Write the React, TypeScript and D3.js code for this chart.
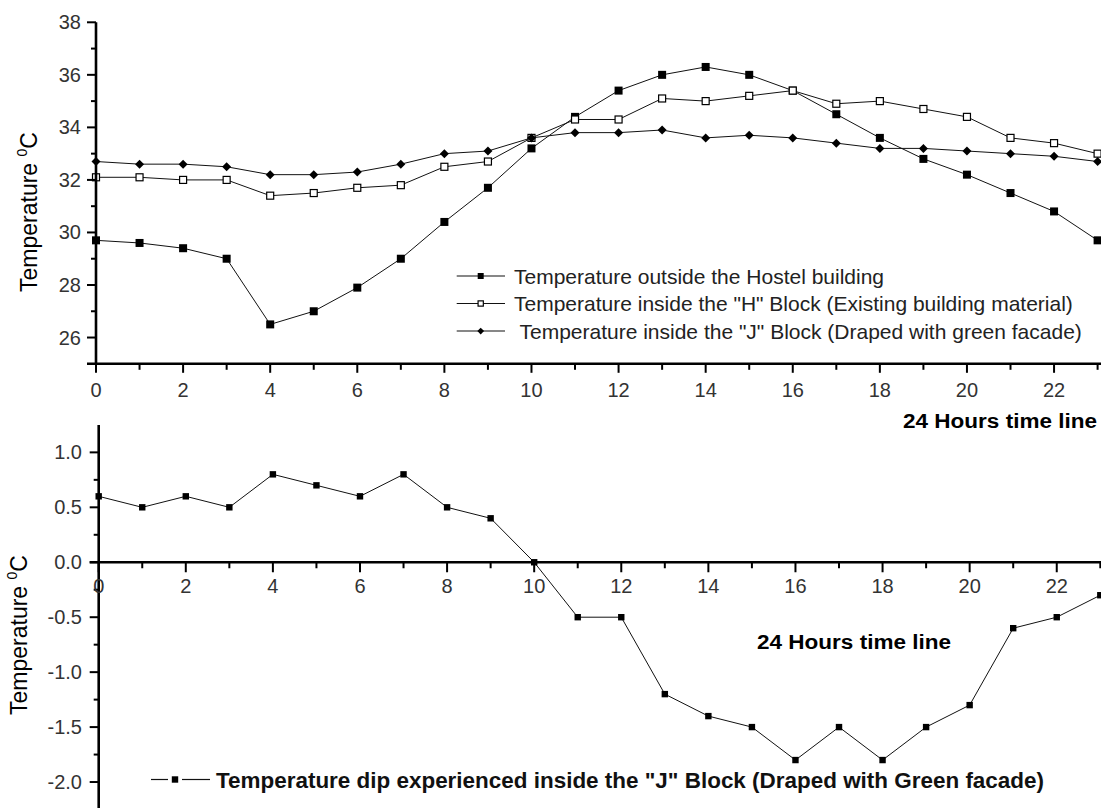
import React from 'react';
import * as d3 from 'd3';

const hours = [0, 1, 2, 3, 4, 5, 6, 7, 8, 9, 10, 11, 12, 13, 14, 15, 16, 17, 18, 19, 20, 21, 22, 23];
const outsideTemp = [29.7, 29.6, 29.4, 29.0, 26.5, 27.0, 27.9, 29.0, 30.4, 31.7, 33.2, 34.4, 35.4, 36.0, 36.3, 36.0, 35.4, 34.5, 33.6, 32.8, 32.2, 31.5, 30.8, 29.7];
const hBlockTemp = [32.1, 32.1, 32.0, 32.0, 31.4, 31.5, 31.7, 31.8, 32.5, 32.7, 33.6, 34.3, 34.3, 35.1, 35.0, 35.2, 35.4, 34.9, 35.0, 34.7, 34.4, 33.6, 33.4, 33.0];
const jBlockTemp = [32.7, 32.6, 32.6, 32.5, 32.2, 32.2, 32.3, 32.6, 33.0, 33.1, 33.6, 33.8, 33.8, 33.9, 33.6, 33.7, 33.6, 33.4, 33.2, 33.2, 33.1, 33.0, 32.9, 32.7];
const dipValues = [0.6, 0.5, 0.6, 0.5, 0.8, 0.7, 0.6, 0.8, 0.5, 0.4, 0.0, -0.5, -0.5, -1.2, -1.4, -1.5, -1.8, -1.5, -1.8, -1.5, -1.3, -0.6, -0.5, -0.3];

const xTickLabels = [0, 2, 4, 6, 8, 10, 12, 14, 16, 18, 20, 22];
const topYTicks = [26, 28, 30, 32, 34, 36, 38];
const topYMinor = [27, 29, 31, 33, 35, 37];
const bottomYTicks = [1.0, 0.5, 0.0, -0.5, -1.0, -1.5, -2.0];
const bottomYMinor = [0.75, 0.25, -0.25, -0.75, -1.25, -1.75];

const legendTop = [
  'Temperature outside the Hostel building',
  'Temperature inside the "H" Block (Existing building material)',
  ' Temperature inside the "J" Block (Draped with green facade)',
];
const legendBottom = 'Temperature dip experienced inside the "J" Block (Draped with Green facade)';
const xTitle = '24 Hours time line';
const yTitle = 'Temperature ';

const FONT = '"Liberation Sans", Arial, sans-serif';

function Marker({ kind, x, y, s = 1 }: { kind: string; x: number; y: number; s?: number }) {
  if (kind === 'fsq') {
    const h = 4 * s;
    return <rect x={x - h} y={y - h} width={2 * h} height={2 * h} fill="#000" />;
  }
  if (kind === 'osq') {
    const h = 3.5 * s;
    return <rect x={x - h} y={y - h} width={2 * h} height={2 * h} fill="#fff" stroke="#000" strokeWidth={1.2} />;
  }
  if (kind === 'dia') {
    const w = 4.5 * s;
    const h = 4.5 * s;
    return <path d={`M${x},${y - h}L${x + w},${y}L${x},${y + h}L${x - w},${y}Z`} fill="#000" />;
  }
  const h = 3.2 * s;
  return <rect x={x - h} y={y - h} width={2 * h} height={2 * h} fill="#000" />;
}

export default function App() {
  const xTop = d3.scaleLinear().domain([0, 23]).range([96, 1097.6]);
  const yTop = d3.scaleLinear().domain([25, 38]).range([363.8, 22.3]);
  const xBot = d3.scaleLinear().domain([0, 23]).range([98.7, 1100.3]);
  const yBot = d3.scaleLinear().domain([-2.25, 1.25]).range([809.5, 424.9]);

  const lineTop = (vals: number[]) =>
    d3.line<number>().x((_, i) => xTop(hours[i])).y((d) => yTop(d))(vals) || '';
  const lineBot = d3.line<number>().x((_, i) => xBot(hours[i])).y((d) => yBot(d))(dipValues) || '';

  const series = [
    { vals: outsideTemp, kind: 'fsq' },
    { vals: hBlockTemp, kind: 'osq' },
    { vals: jBlockTemp, kind: 'dia' },
  ];

  const axisW = 2.6;
  const tickColor = '#000';
  const labelColor = '#333';
  const tickFont = 20;

  const topAxisY = yTop(25);
  const botAxisY = yBot(0);

  return (
    <svg width={1101} height={808} style={{ position: 'absolute', left: 0, top: 0, background: '#fff' }} fontFamily={FONT}>
      <rect x={0} y={0} width={1101} height={808} fill="#fff" />
      {/* ===== TOP CHART ===== */}
      {series.map((s, si) => (
        <g key={si}>
          <path d={lineTop(s.vals)} fill="none" stroke="#111" strokeWidth={1} />
          {s.vals.map((v, i) => (
            <Marker key={i} kind={s.kind} x={xTop(hours[i])} y={yTop(v)} />
          ))}
        </g>
      ))}
      {/* top y axis */}
      <line x1={xTop(0)} x2={xTop(0)} y1={yTop(38)} y2={topAxisY + 1} stroke="#000" strokeWidth={axisW} />
      {topYTicks.map((t) => (
        <g key={t}>
          <line x1={xTop(0) - 9} x2={xTop(0)} y1={yTop(t)} y2={yTop(t)} stroke={tickColor} strokeWidth={2} />
          <text x={81} y={yTop(t) + 7} textAnchor="end" fontSize={tickFont} fill={labelColor}>{t}</text>
        </g>
      ))}
      {topYMinor.map((t) => (
        <line key={t} x1={xTop(0) - 5} x2={xTop(0)} y1={yTop(t)} y2={yTop(t)} stroke={tickColor} strokeWidth={2} />
      ))}
      {/* top x axis */}
      <line x1={xTop(0) - 9} x2={1101} y1={topAxisY} y2={topAxisY} stroke="#000" strokeWidth={axisW} />
      {hours.map((h) => (
        <line key={h} x1={xTop(h)} x2={xTop(h)} y1={topAxisY} y2={topAxisY + (h % 2 === 0 ? 9 : 6)} stroke={tickColor} strokeWidth={2} />
      ))}
      {xTickLabels.map((h) => (
        <text key={h} x={xTop(h)} y={topAxisY + 33} textAnchor="middle" fontSize={tickFont} fill={labelColor}>{h}</text>
      ))}
      <text x={903} y={428} fontSize={20} fontWeight="bold" fill="#000" textLength={194} lengthAdjust="spacingAndGlyphs">{xTitle}</text>
      <text transform={`translate(37,212) rotate(-90)`} textAnchor="middle" fontSize={23} fill="#000">
        {yTitle}
        <tspan fontSize={14} dy={-10}>0</tspan>
        <tspan dy={10}>C</tspan>
      </text>
      {/* top legend */}
      {legendTop.map((lab, i) => {
        const cy = 276 + i * 27.5;
        return (
          <g key={i}>
            <line x1={456.7} x2={505} y1={cy} y2={cy} stroke="#111" strokeWidth={1.2} />
            <Marker kind={series[i].kind} x={480.7} y={cy} s={0.75} />
            <text x={514} y={cy + 7.5} fontSize={21} fill="#222" style={{ whiteSpace: 'pre' }}>{lab}</text>
          </g>
        );
      })}

      {/* ===== BOTTOM CHART ===== */}
      <path d={lineBot} fill="none" stroke="#111" strokeWidth={1} />
      {dipValues.map((v, i) => (
        <Marker key={i} kind="bsq" x={xBot(hours[i])} y={yBot(v)} />
      ))}
      {/* bottom y axis */}
      <line x1={xBot(0)} x2={xBot(0)} y1={yBot(1.25)} y2={808} stroke="#000" strokeWidth={axisW} />
      {bottomYTicks.map((t) => (
        <g key={t}>
          <line x1={xBot(0) - 9} x2={xBot(0)} y1={yBot(t)} y2={yBot(t)} stroke={tickColor} strokeWidth={2} />
          <text x={82} y={yBot(t) + 7} textAnchor="end" fontSize={tickFont} fill={labelColor}>{t.toFixed(1)}</text>
        </g>
      ))}
      {bottomYMinor.map((t) => (
        <line key={t} x1={xBot(0) - 5} x2={xBot(0)} y1={yBot(t)} y2={yBot(t)} stroke={tickColor} strokeWidth={2} />
      ))}
      {/* bottom x axis at zero */}
      <line x1={xBot(0) - 9} x2={1101} y1={botAxisY} y2={botAxisY} stroke="#000" strokeWidth={axisW} />
      {hours.map((h) => (
        <line key={h} x1={xBot(h)} x2={xBot(h)} y1={botAxisY} y2={botAxisY + (h % 2 === 0 ? 10 : 6)} stroke={tickColor} strokeWidth={2} />
      ))}
      {xTickLabels.map((h) => (
        <text key={h} x={xBot(h)} y={botAxisY + 31} textAnchor="middle" fontSize={tickFont} fill={labelColor}>{h}</text>
      ))}
      <text x={757} y={649} fontSize={20} fontWeight="bold" fill="#000" textLength={194} lengthAdjust="spacingAndGlyphs">{xTitle}</text>
      <text transform={`translate(27,635) rotate(-90)`} textAnchor="middle" fontSize={23} fill="#000">
        {yTitle}
        <tspan fontSize={14} dy={-10}>0</tspan>
        <tspan dy={10}>C</tspan>
      </text>
      {/* bottom legend */}
      <line x1={151} x2={168} y1={779.5} y2={779.5} stroke="#111" strokeWidth={1.2} />
      <line x1={182} x2={210} y1={779.5} y2={779.5} stroke="#111" strokeWidth={1.2} />
      <Marker kind="bsq" x={175} y={779.5} />
      <text x={216} y={787.5} fontSize={22.5} fontWeight="bold" fill="#111" textLength={828} lengthAdjust="spacingAndGlyphs">{legendBottom}</text>
    </svg>
  );
}
